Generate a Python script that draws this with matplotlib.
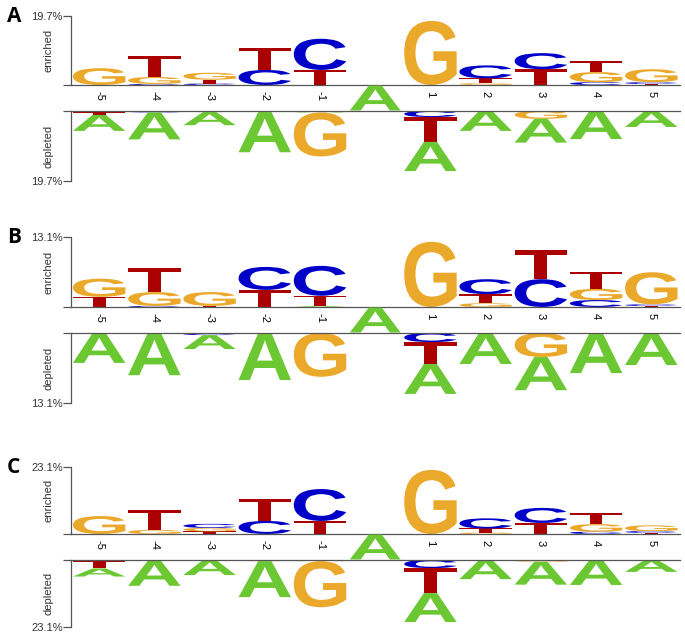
import matplotlib
matplotlib.use("Agg")
import matplotlib.pyplot as plt
from matplotlib.textpath import TextPath
from matplotlib.patches import PathPatch
from matplotlib.font_manager import FontProperties
from matplotlib.transforms import Affine2D

# -----------------------
# DATA (percent per letter, positions -5..5, index 5 = fixed position 0)
# -----------------------
positions = [-5, -4, -3, -2, -1, 0, 1, 2, 3, 4, 5]
tick_labels = ["-5", "-4", "-3", "-2", "-1", "", "1", "2", "3", "4", "5"]
panel_names = ["A", "B", "C"]
scale_max = [19.7, 13.1, 23.1]

a_enriched = {
    "A": [0, 0, 0, 0, 0, 0, 0, 0, 0, 0, 0],
    "C": [0, 0.3, 0.4, 4.3, 8.9, 0, 0, 3.7, 4.6, 0.8, 0.5],
    "G": [4.8, 2.0, 2.0, 0, 0, 0, 18.3, 0.5, 0, 2.9, 3.7],
    "T": [0, 6.0, 1.1, 6.3, 4.3, 0, 0, 1.4, 4.5, 3.1, 0.3],
}
a_depleted = {
    "A": [4.5, 7.6, 3.7, 11.3, 0.4, 0, 8.2, 5.6, 6.7, 7.9, 4.5],
    "C": [0.3, 0.4, 0.3, 0, 0, 0, 1.7, 0, 0, 0, 0],
    "G": [0, 0, 0, 0.3, 12.4, 0, 0, 0, 2.2, 0, 0],
    "T": [0.8, 0, 0, 0, 0, 0, 7.0, 0, 0, 0, 0],
}
b_enriched = {
    "A": [0, 0, 0, 0, 0.2, 0, 0, 0, 0, 0, 0],
    "C": [0, 0.2, 0, 4.3, 5.6, 0, 0, 2.8, 5.2, 1.3, 0.3],
    "G": [3.4, 2.6, 2.6, 0, 0, 0, 12.2, 0.7, 0, 2.1, 6.0],
    "T": [1.9, 4.5, 0.2, 3.2, 1.9, 0, 0, 1.7, 5.4, 3.2, 0.2],
}
b_depleted = {
    "A": [5.6, 7.9, 2.6, 8.8, 0, 0, 5.6, 5.8, 6.2, 7.5, 6.0],
    "C": [0, 0, 0.4, 0, 0, 0, 1.7, 0, 0, 0, 0],
    "G": [0, 0, 0, 0, 8.2, 0, 0, 0, 4.5, 0, 0],
    "T": [0, 0, 0, 0, 0, 0, 4.1, 0, 0, 0, 0],
}
c_enriched = {
    "A": [0, 0, 0, 0, 0, 0, 0, 0, 0, 0, 0],
    "C": [0, 0, 1.4, 4.5, 11.0, 0, 0, 3.5, 5.2, 0.8, 0.6],
    "G": [6.2, 1.4, 1.2, 0, 0, 0, 22.1, 0.5, 0, 2.6, 2.0],
    "T": [0, 6.9, 0.9, 7.6, 4.5, 0, 0, 1.4, 3.8, 3.8, 0.4],
}
c_depleted = {
    "A": [2.8, 8.6, 5.2, 12.4, 0.4, 0, 10.0, 6.6, 7.9, 8.6, 4.1],
    "C": [0.3, 0.3, 0, 0, 0, 0, 2.8, 0, 0, 0, 0],
    "G": [0, 0, 0, 0.4, 15.9, 0, 0, 0, 0.6, 0, 0],
    "T": [2.6, 0, 0, 0, 0, 0, 8.6, 0, 0, 0, 0],
}
panels = [(a_enriched, a_depleted), (b_enriched, b_depleted), (c_enriched, c_depleted)]

COLORS = {"A": "#6cc832", "C": "#0000c8", "G": "#eba92c", "T": "#aa0000"}
FP = FontProperties(family="Liberation Sans", weight="bold")
LINE = "#555555"
W, H = 685, 643

# panel rows in pixels: enriched top, baseline, depleted line, depleted bottom
rows = [(16, 85, 111, 181), (237, 307, 333, 403), (467, 534, 560, 627)]
X0, X1 = 71, 680


def draw_letter(ax, ch, x, y, w, h):
    tp = TextPath((0, 0), ch, size=1, prop=FP)
    bb = tp.get_extents()
    t = (Affine2D().translate(-bb.x0, -bb.y0)
         .scale(w / bb.width, h / bb.height)
         .translate(x - w / 2, y))
    ax.add_patch(PathPatch(t.transform_path(tp), fc=COLORS[ch], ec="none", lw=0))


def rect(top, bottom):
    return [X0 / W, 1 - bottom / H, (X1 - X0) / W, (bottom - top) / H]


fig = plt.figure(figsize=(6.85, 6.43), dpi=100)

for name, smax, (enr, dep), (yt, yb, yd, ybot) in zip(panel_names, scale_max, panels, rows):
    xl = (-5.51, 5.52)
    label = "%.1f%%" % smax

    # enriched
    ax = fig.add_axes(rect(yt, yb))
    ax.set_xlim(*xl)
    ax.set_ylim(0, smax)
    for i, p in enumerate(positions):
        stack = sorted(((enr[c][i], c) for c in "ACGT" if enr[c][i] > 0))
        cum = 0
        for h, c in stack:
            draw_letter(ax, c, p, cum, 0.95, h)
            cum += h
    for s in ("top", "right"):
        ax.spines[s].set_visible(False)
    for s in ("left", "bottom"):
        ax.spines[s].set_color(LINE)
        ax.spines[s].set_linewidth(0.9)
    ax.set_yticks([0, smax])
    ax.set_yticklabels(["", label], fontsize=8, color="#333333", family="Liberation Sans")
    ax.tick_params(axis="y", length=6, width=0.9, color=LINE, pad=0)
    ax.set_xticks(positions)
    ax.set_xticklabels(tick_labels, rotation=270, fontsize=8, family="Liberation Sans")
    ax.tick_params(axis="x", length=0, pad=4)

    # fixed position 0 between the two lines
    mid = fig.add_axes(rect(yb, yd))
    mid.set_xlim(*xl)
    mid.set_ylim(0, 1)
    mid.axis("off")
    mid.patch.set_alpha(0)
    draw_letter(mid, "A", 0, 0.02, 0.92, 0.96)

    # depleted
    ax2 = fig.add_axes(rect(yd, ybot))
    ax2.set_xlim(*xl)
    ax2.set_ylim(-smax, 0)
    for i, p in enumerate(positions):
        stack = sorted(((dep[c][i], c) for c in "ACGT" if dep[c][i] > 0))
        cum = 0
        for h, c in stack:
            draw_letter(ax2, c, p, -(cum + h), 0.95, h)
            cum += h
    for s in ("bottom", "right"):
        ax2.spines[s].set_visible(False)
    for s in ("left", "top"):
        ax2.spines[s].set_color(LINE)
        ax2.spines[s].set_linewidth(0.9)
    ax2.set_yticks([-smax, 0])
    ax2.set_yticklabels([label, ""], fontsize=8, color="#333333", family="Liberation Sans")
    ax2.tick_params(axis="y", length=6, width=0.9, color=LINE, pad=0)
    ax2.set_xticks([])

    fig.text(49 / W, 1 - ((yt + yb) / 2) / H, "enriched", rotation=90, ha="center",
             va="center", fontsize=8, color="#333333", family="Liberation Sans")
    fig.text(49 / W, 1 - ((yd + ybot) / 2) / H, "depleted", rotation=90, ha="center",
             va="center", fontsize=8, color="#333333", family="Liberation Sans")
    fig.text(7 / W, 1 - (yt - 10) / H, name, ha="left", va="top", fontsize=15,
             fontweight="bold", family="Open Sans")

fig.savefig("out.png", dpi=100)
